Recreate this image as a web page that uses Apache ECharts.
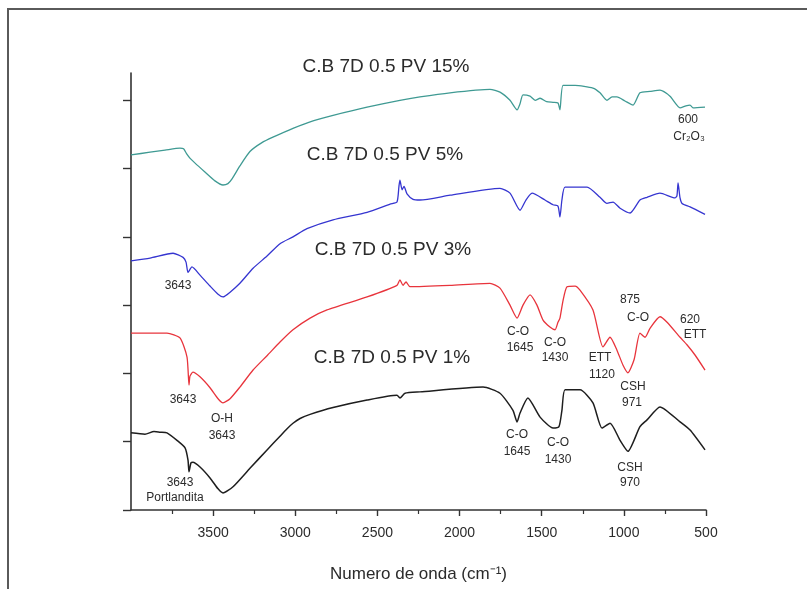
<!DOCTYPE html>
<html>
<head>
<meta charset="utf-8">
<script src="https://cdn.jsdelivr.net/npm/echarts@6/dist/echarts.min.js"></script>
<style>
  html, body { margin: 0; padding: 0; background: #fff; }
  #chart { width: 807px; height: 589px; }
</style>
</head>
<body>
<div id="chart"></div>
<script>
// FTIR spectra, stacked with vertical offsets (arbitrary units), wavenumber in cm^-1
const seriesNames = ['C.B 7D 0.5 PV 15%', 'C.B 7D 0.5 PV 5%', 'C.B 7D 0.5 PV 3%', 'C.B 7D 0.5 PV 1%'];
const seriesColors = ['#3f9a93', '#3535d0', '#e8343c', '#1e1e1e'];
const xTickValues = [500, 1000, 1500, 2000, 2500, 3000, 3500];
const yTickValues = [0, 1, 2, 3, 4, 5, 6];

const pv15 = [
  [4000, 5.20], [3884, 5.24], [3793, 5.27], [3702, 5.30], [3680, 5.29], [3662, 5.22],
  [3640, 5.15], [3610, 5.08], [3550, 4.95], [3489, 4.82], [3440, 4.76], [3410, 4.78],
  [3385, 4.85], [3337, 5.04], [3276, 5.25], [3203, 5.38], [3136, 5.46], [3014, 5.59],
  [2892, 5.70], [2770, 5.78], [2563, 5.90], [2363, 6.00], [2241, 6.05], [2058, 6.11],
  [1815, 6.16], [1754, 6.12], [1693, 6.00], [1650, 5.86], [1632, 5.95], [1614, 6.08],
  [1571, 6.06], [1540, 6.00], [1510, 6.03], [1470, 5.98], [1431, 5.97], [1401, 5.96],
  [1389, 5.86], [1370, 6.22], [1297, 6.22], [1188, 6.18], [1145, 6.11], [1103, 6.00],
  [1072, 6.05], [1042, 6.05], [993, 5.99], [944, 5.93], [902, 6.11], [841, 6.13],
  [780, 6.15], [719, 6.06], [658, 5.89], [622, 5.92], [597, 5.93], [579, 5.89],
  [506, 5.90]
];

const pv5 = [
  [4000, 3.65], [3884, 3.69], [3744, 3.76], [3683, 3.70], [3665, 3.63], [3653, 3.48],
  [3629, 3.56], [3580, 3.44], [3519, 3.28], [3470, 3.16], [3440, 3.12], [3397, 3.19],
  [3337, 3.32], [3257, 3.54], [3172, 3.72], [3093, 3.90], [3014, 4.00], [2929, 4.12],
  [2770, 4.25], [2563, 4.36], [2423, 4.48], [2381, 4.51], [2369, 4.74], [2363, 4.83],
  [2350, 4.69], [2338, 4.74], [2320, 4.63], [2283, 4.55], [2241, 4.54], [2058, 4.61],
  [1754, 4.71], [1693, 4.64], [1632, 4.39], [1596, 4.54], [1559, 4.64], [1480, 4.54],
  [1431, 4.47], [1401, 4.45], [1389, 4.29], [1377, 4.54], [1358, 4.73], [1224, 4.73],
  [1145, 4.58], [1103, 4.49], [1066, 4.51], [1023, 4.42], [962, 4.35], [902, 4.54],
  [859, 4.58], [780, 4.64], [689, 4.57], [677, 4.60], [670, 4.79], [658, 4.57],
  [646, 4.49], [597, 4.44], [506, 4.33]
];

const pv3 = [
  [4000, 2.59], [3781, 2.59], [3702, 2.52], [3659, 2.24], [3647, 1.83], [3641, 1.96],
  [3623, 2.02], [3580, 1.95], [3519, 1.79], [3470, 1.63], [3440, 1.57], [3397, 1.63],
  [3337, 1.80], [3257, 2.05], [3172, 2.26], [3093, 2.46], [3014, 2.64], [2910, 2.81],
  [2807, 2.93], [2563, 3.12], [2381, 3.29], [2363, 3.37], [2344, 3.29], [2326, 3.34],
  [2302, 3.27], [2058, 3.29], [1815, 3.32], [1754, 3.25], [1693, 3.00], [1650, 2.81],
  [1614, 3.00], [1571, 3.15], [1529, 3.00], [1492, 2.78], [1450, 2.68], [1419, 2.64],
  [1401, 2.75], [1389, 2.81], [1370, 3.07], [1346, 3.27], [1297, 3.28], [1267, 3.22],
  [1188, 2.93], [1127, 2.39], [1084, 2.53], [1042, 2.34], [1005, 2.12], [975, 2.01],
  [938, 2.20], [902, 2.59], [871, 2.53], [841, 2.66], [780, 2.83], [737, 2.75],
  [658, 2.53], [616, 2.42], [567, 2.27], [506, 2.05]
];

const pv1 = [
  [4000, 1.13], [3915, 1.11], [3860, 1.15], [3823, 1.14], [3781, 1.13], [3720, 1.02],
  [3671, 0.91], [3653, 0.73], [3647, 0.56], [3635, 0.69], [3623, 0.70], [3580, 0.63],
  [3519, 0.47], [3470, 0.31], [3440, 0.25], [3379, 0.34], [3276, 0.61], [3172, 0.88],
  [3093, 1.08], [3050, 1.19], [3014, 1.27], [2971, 1.34], [2910, 1.40], [2770, 1.50],
  [2563, 1.61], [2381, 1.68], [2363, 1.64], [2332, 1.71], [2241, 1.73], [1857, 1.80],
  [1754, 1.71], [1675, 1.46], [1650, 1.29], [1632, 1.42], [1584, 1.64], [1510, 1.36],
  [1431, 1.20], [1395, 1.22], [1377, 1.46], [1358, 1.76], [1267, 1.76], [1188, 1.57],
  [1133, 1.20], [1084, 1.27], [1023, 1.02], [975, 0.86], [902, 1.22], [859, 1.32],
  [780, 1.51], [658, 1.29], [597, 1.17], [506, 0.88]
];

const spectra = [pv15, pv5, pv3, pv1];

const chart = echarts.init(document.getElementById('chart'), null, { renderer: 'canvas' });

const FONT = '"Liberation Sans", Arial, sans-serif';
const textColor = '#2b2b2b';

function label(text, x, y, size) {
  return {
    type: 'text',
    z: 100,
    style: {
      text: text, x: x, y: y,
      fill: textColor,
      font: size + 'px ' + FONT,
      textAlign: 'center',
      textVerticalAlign: 'middle'
    }
  };
}

const graphics = [
  // outer frame
  {
    type: 'rect',
    z: 0,
    shape: { x: 8, y: 9, width: 820, height: 600 },
    style: { fill: 'none', stroke: '#5a5a5a', lineWidth: 2 }
  },
  label(seriesNames[0], 386, 67, 19),
  label(seriesNames[1], 385, 155, 19),
  label(seriesNames[2], 393, 250, 19),
  label(seriesNames[3], 392, 358, 19),
  label('600', 688, 120, 12),
  label('Cr\u2082O\u2083', 689, 137, 12),
  label('3643', 178, 286, 12),
  label('3643', 183, 400, 12),
  label('O-H', 222, 419, 12),
  label('3643', 222, 436, 12),
  label('3643', 180, 483, 12),
  label('Portlandita', 175, 498, 12),
  label('C-O', 518, 332, 12),
  label('1645', 520, 348, 12),
  label('C-O', 555, 343, 12),
  label('1430', 555, 358, 12),
  label('ETT', 600, 358, 12),
  label('1120', 602, 375, 12),
  label('CSH', 633, 387, 12),
  label('971', 632, 403, 12),
  label('875', 630, 300, 12),
  label('C-O', 638, 318, 12),
  label('620', 690, 320, 12),
  label('ETT', 695, 335, 12),
  label('C-O', 517, 435, 12),
  label('1645', 517, 452, 12),
  label('C-O', 558, 443, 12),
  label('1430', 558, 460, 12),
  label('CSH', 630, 468, 12),
  label('970', 630, 483, 12)
];

chart.setOption({
  backgroundColor: '#ffffff',
  animation: false,
  grid: { left: 131, right: 101, top: 73, bottom: 79, containLabel: false },
  xAxis: {
    type: 'value',
    inverse: true,
    min: 500,
    max: 4000,
    interval: 500,
    name: 'Numero de onda (cm\u207B\u00B9)',
    nameLocation: 'middle',
    nameGap: 56,
    nameTextStyle: { fontFamily: FONT, fontSize: 17, color: textColor },
    axisLine: { show: true, onZero: false, lineStyle: { color: '#333', width: 1.6 } },
    axisTick: { show: true, inside: false, length: 6, customValues: xTickValues, lineStyle: { color: '#333', width: 1.4 } },
    minorTick: { show: true, splitNumber: 2, length: 4, lineStyle: { color: '#333', width: 1.2 } },
    axisLabel: {
      fontFamily: FONT, fontSize: 14, color: textColor, margin: 16,
      customValues: xTickValues,
      formatter: function (v) { return xTickValues.indexOf(v) >= 0 ? String(v) : ''; }
    },
    splitLine: { show: false }
  },
  yAxis: {
    type: 'value',
    min: 0,
    max: 6.4,
    interval: 1,
    axisLine: { show: true, lineStyle: { color: '#333', width: 1.6 } },
    axisTick: { show: true, inside: false, length: 8, customValues: yTickValues, lineStyle: { color: '#333', width: 1.4 } },
    axisLabel: { show: false },
    splitLine: { show: false }
  },
  series: spectra.map(function (d, i) {
    return {
      name: seriesNames[i],
      type: 'line',
      data: d,
      showSymbol: false,
      symbol: 'none',
      smooth: 0.2,
      lineStyle: { color: seriesColors[i], width: i === 3 ? 1.5 : 1.3 },
      z: 5
    };
  }),
  graphic: graphics
});
</script>
</body>
</html>
